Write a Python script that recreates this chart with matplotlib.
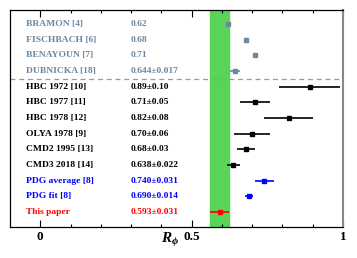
import matplotlib.pyplot as plt
import numpy as np

plt.rcParams['mathtext.fontset'] = 'custom'
plt.rcParams['mathtext.it'] = 'Liberation Serif:italic:bold'
plt.rcParams['mathtext.rm'] = 'Liberation Serif:bold'

names = ['BRAMON [4]', 'FISCHBACH [6]', 'BENAYOUN [7]', 'DUBNICKA [18]',
         'HBC 1972 [10]', 'HBC 1977 [11]', 'HBC 1978 [12]', 'OLYA 1978 [9]',
         'CMD2 1995 [13]', 'CMD3 2018 [14]', 'PDG average [8]', 'PDG fit [8]',
         'This paper']
value_text = ['0.62', '0.68', '0.71', '0.644±0.017', '0.89±0.10', '0.71±0.05',
              '0.82±0.08', '0.70±0.06', '0.68±0.03', '0.638±0.022',
              '0.740±0.031', '0.690±0.014', '0.593±0.031']
values = [0.62, 0.68, 0.71, 0.644, 0.89, 0.71, 0.82, 0.70, 0.68, 0.638,
          0.740, 0.690, 0.593]
errors = [0, 0, 0, 0.017, 0.10, 0.05, 0.08, 0.06, 0.03, 0.022,
          0.031, 0.014, 0.031]
groups = ['old'] * 4 + ['exp'] * 6 + ['pdg'] * 2 + ['this']

colors = {'old': '#6b87a3', 'exp': 'black', 'pdg': 'blue', 'this': 'red'}

fig = plt.figure(figsize=(3.57, 2.58), dpi=100)
ax = fig.add_axes([10 / 357, 31 / 258, 333 / 357, 217 / 258])

n = len(names)
ypos = np.arange(n, 0, -1)

# band for this result
ax.axvspan(values[-1] - errors[-1], values[-1] + errors[-1], color='#58d458', zorder=0)

for i in range(n):
    c = colors[groups[i]]
    ax.errorbar(values[i], ypos[i], xerr=errors[i] if errors[i] > 0 else None,
                fmt='s', color=c, ms=2.5, elinewidth=1.2, capsize=0, zorder=3)
    ax.text(-0.046, ypos[i], names[i], color=c, fontsize=6.8, fontweight='bold',
            family='Liberation Serif', va='center', ha='left')
    ax.text(0.30, ypos[i], value_text[i], color=c, fontsize=6.8, fontweight='bold',
            family='Liberation Serif', va='center', ha='left')

ax.axhline(n - 3.5, color='#999999', ls='--', lw=0.9, dashes=(4, 3), zorder=2)

ax.set_xlim(-0.1, 1.0)
ax.set_ylim(0.05, n + 0.89)
ax.set_yticks([])
ax.set_xticks([0, 0.5, 1])
ax.set_xticklabels(['0', '0.5', '1'], family='Liberation Serif', fontweight='bold', fontsize=9.5)
ax.set_xticks(np.arange(0.1, 1.0, 0.1), minor=True)
ax.tick_params(axis='x', which='both', direction='in', top=True, pad=3)
ax.tick_params(axis='x', which='major', length=5, width=0.8)
ax.tick_params(axis='x', which='minor', length=2.5, width=0.8)
ax.set_xlabel(r'$R_\phi$', fontsize=11)
ax.xaxis.set_label_coords(0.48, -0.02)
ax.spines['right'].set_color('#888888')
ax.spines['right'].set_linewidth(1.5)
for s in ['left', 'bottom', 'top']:
    ax.spines[s].set_linewidth(0.9)

fig.savefig('out.png', dpi=100)
